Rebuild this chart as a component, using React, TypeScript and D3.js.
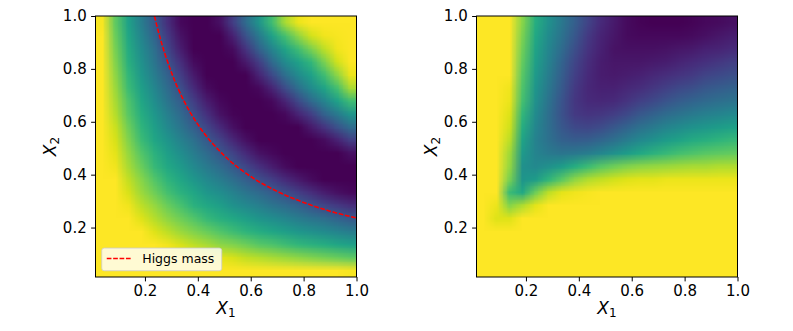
import { useEffect, useRef } from "react";
import * as d3 from "d3";

// lower end of both axes (the grid does not start at 0)
const AXIS_MIN = 0.013;

const xTicks = [0.2, 0.4, 0.6, 0.8, 1.0];
const yTicks = [0.2, 0.4, 0.6, 0.8, 1.0];

// 20x20 grid of normalised values (0 = dark purple, 1 = yellow).
// rows run from x2 = 0.976 (top) down to x2 = 0.038, columns from x1 = 0.038 to 0.976
const leftRows = [
  [0.99, 0.75, 0.57, 0.42, 0.28, 0.13, 0.02, 0, 0, 0.04, 0.18, 0.35, 0.52, 0.69, 0.87, 0.97, 1, 1, 1, 1],
  [1, 0.77, 0.59, 0.45, 0.32, 0.17, 0.05, 0, 0, 0, 0.09, 0.25, 0.41, 0.57, 0.7, 0.83, 0.93, 0.98, 0.99, 1],
  [1, 0.79, 0.61, 0.48, 0.36, 0.21, 0.08, 0, 0, 0, 0.03, 0.15, 0.31, 0.45, 0.58, 0.69, 0.8, 0.9, 0.98, 1],
  [1, 0.81, 0.63, 0.5, 0.39, 0.26, 0.13, 0.03, 0, 0, 0, 0.07, 0.18, 0.34, 0.48, 0.57, 0.66, 0.8, 0.93, 1],
  [1, 0.83, 0.66, 0.53, 0.42, 0.31, 0.18, 0.07, 0, 0, 0, 0, 0.1, 0.22, 0.36, 0.48, 0.57, 0.69, 0.83, 0.97],
  [1, 0.85, 0.68, 0.56, 0.46, 0.35, 0.24, 0.12, 0.03, 0, 0, 0, 0.02, 0.1, 0.23, 0.36, 0.48, 0.58, 0.7, 0.87],
  [1, 0.87, 0.72, 0.59, 0.49, 0.39, 0.29, 0.18, 0.08, 0.02, 0, 0, 0, 0.02, 0.1, 0.22, 0.34, 0.45, 0.57, 0.69],
  [1, 0.89, 0.74, 0.62, 0.53, 0.43, 0.34, 0.24, 0.14, 0.05, 0.01, 0, 0, 0, 0.02, 0.1, 0.18, 0.31, 0.41, 0.52],
  [1, 0.92, 0.78, 0.65, 0.56, 0.47, 0.39, 0.3, 0.21, 0.12, 0.04, 0, 0, 0, 0, 0, 0.07, 0.15, 0.25, 0.35],
  [1, 0.94, 0.81, 0.68, 0.59, 0.52, 0.44, 0.37, 0.28, 0.2, 0.11, 0.04, 0, 0, 0, 0, 0, 0.03, 0.09, 0.18],
  [1, 0.96, 0.84, 0.73, 0.64, 0.56, 0.49, 0.42, 0.35, 0.27, 0.2, 0.12, 0.05, 0.02, 0, 0, 0, 0, 0, 0.04],
  [1, 0.98, 0.87, 0.77, 0.67, 0.6, 0.54, 0.47, 0.41, 0.35, 0.28, 0.21, 0.14, 0.08, 0.03, 0, 0, 0, 0, 0],
  [1, 1, 0.91, 0.82, 0.73, 0.65, 0.59, 0.53, 0.47, 0.42, 0.36, 0.3, 0.24, 0.18, 0.12, 0.07, 0.03, 0, 0, 0],
  [1, 1, 0.94, 0.85, 0.78, 0.7, 0.64, 0.59, 0.53, 0.49, 0.44, 0.39, 0.34, 0.29, 0.24, 0.18, 0.13, 0.08, 0.04, 0.02],
  [1, 1, 0.98, 0.9, 0.84, 0.77, 0.71, 0.64, 0.6, 0.56, 0.51, 0.47, 0.43, 0.39, 0.35, 0.31, 0.26, 0.21, 0.17, 0.13],
  [1, 1, 1, 0.95, 0.89, 0.83, 0.78, 0.73, 0.67, 0.63, 0.6, 0.56, 0.52, 0.49, 0.46, 0.42, 0.39, 0.36, 0.32, 0.28],
  [1, 1, 1, 1, 0.95, 0.9, 0.85, 0.81, 0.77, 0.73, 0.69, 0.65, 0.62, 0.59, 0.56, 0.53, 0.5, 0.48, 0.45, 0.42],
  [1, 1, 1, 1, 1, 0.98, 0.94, 0.9, 0.87, 0.83, 0.81, 0.78, 0.74, 0.72, 0.69, 0.66, 0.64, 0.62, 0.59, 0.57],
  [1, 1, 1, 1, 1, 1, 1, 1, 0.98, 0.96, 0.94, 0.91, 0.89, 0.87, 0.85, 0.83, 0.81, 0.79, 0.77, 0.75],
  [1, 1, 1, 1, 1, 1, 1, 1, 1, 1, 1, 1, 1, 1, 1, 1, 1, 1, 1, 0.99],
];

const rightRows = [
  [1.0, 1.0, 1.0, 0.82, 0.62, 0.5, 0.4, 0.3, 0.2, 0.12, 0.07, 0.03, 0.01, 0.0, 0.0, 0.0, 0.01, 0.02, 0.03, 0.04],
  [1.0, 1.0, 1.0, 0.8, 0.6, 0.48, 0.38, 0.27, 0.17, 0.1, 0.06, 0.03, 0.02, 0.02, 0.02, 0.02, 0.03, 0.04, 0.06, 0.08],
  [1.0, 1.0, 1.0, 0.78, 0.58, 0.46, 0.35, 0.24, 0.15, 0.09, 0.05, 0.04, 0.04, 0.04, 0.05, 0.06, 0.07, 0.09, 0.1, 0.12],
  [1.0, 1.0, 1.0, 0.76, 0.56, 0.44, 0.32, 0.21, 0.13, 0.08, 0.06, 0.06, 0.06, 0.07, 0.08, 0.1, 0.12, 0.14, 0.16, 0.18],
  [1.0, 1.0, 1.0, 0.74, 0.54, 0.42, 0.3, 0.19, 0.12, 0.08, 0.07, 0.08, 0.09, 0.11, 0.13, 0.15, 0.17, 0.2, 0.22, 0.24],
  [1.0, 1.0, 0.98, 0.72, 0.52, 0.4, 0.28, 0.17, 0.11, 0.09, 0.09, 0.11, 0.13, 0.16, 0.19, 0.22, 0.24, 0.27, 0.29, 0.31],
  [1.0, 1.0, 0.97, 0.7, 0.5, 0.38, 0.26, 0.16, 0.12, 0.11, 0.12, 0.15, 0.19, 0.22, 0.26, 0.29, 0.32, 0.34, 0.36, 0.38],
  [1.0, 1.0, 0.95, 0.66, 0.48, 0.36, 0.25, 0.17, 0.15, 0.16, 0.18, 0.22, 0.27, 0.31, 0.35, 0.38, 0.41, 0.43, 0.45, 0.47],
  [1.0, 1.0, 0.93, 0.62, 0.46, 0.36, 0.27, 0.22, 0.21, 0.23, 0.27, 0.32, 0.37, 0.41, 0.45, 0.48, 0.51, 0.53, 0.55, 0.57],
  [1.0, 1.0, 0.9, 0.58, 0.44, 0.37, 0.31, 0.29, 0.3, 0.33, 0.37, 0.42, 0.47, 0.51, 0.55, 0.58, 0.61, 0.63, 0.65, 0.67],
  [1.0, 1.0, 0.86, 0.54, 0.45, 0.41, 0.39, 0.4, 0.42, 0.46, 0.5, 0.55, 0.6, 0.64, 0.67, 0.7, 0.72, 0.74, 0.75, 0.76],
  [1.0, 1.0, 0.84, 0.5, 0.47, 0.5, 0.55, 0.62, 0.68, 0.74, 0.78, 0.81, 0.83, 0.84, 0.85, 0.86, 0.87, 0.87, 0.88, 0.88],
  [1.0, 1.0, 0.8, 0.52, 0.55, 0.65, 0.74, 0.83, 0.88, 0.91, 0.93, 0.95, 0.96, 0.96, 0.97, 0.97, 0.97, 0.97, 0.97, 0.97],
  [1.0, 1.0, 0.68, 0.6, 0.78, 0.9, 0.96, 0.98, 0.99, 1.0, 1.0, 1.0, 1.0, 1.0, 1.0, 1.0, 1.0, 1.0, 1.0, 1.0],
  [1.0, 0.97, 0.82, 0.88, 0.96, 1.0, 1.0, 1.0, 1.0, 1.0, 1.0, 1.0, 1.0, 1.0, 1.0, 1.0, 1.0, 1.0, 1.0, 1.0],
  [1.0, 0.95, 0.95, 1.0, 1.0, 1.0, 1.0, 1.0, 1.0, 1.0, 1.0, 1.0, 1.0, 1.0, 1.0, 1.0, 1.0, 1.0, 1.0, 1.0],
  [1.0, 1.0, 1.0, 1.0, 1.0, 1.0, 1.0, 1.0, 1.0, 1.0, 1.0, 1.0, 1.0, 1.0, 1.0, 1.0, 1.0, 1.0, 1.0, 1.0],
  [1.0, 1.0, 1.0, 1.0, 1.0, 1.0, 1.0, 1.0, 1.0, 1.0, 1.0, 1.0, 1.0, 1.0, 1.0, 1.0, 1.0, 1.0, 1.0, 1.0],
  [1.0, 1.0, 1.0, 1.0, 1.0, 1.0, 1.0, 1.0, 1.0, 1.0, 1.0, 1.0, 1.0, 1.0, 1.0, 1.0, 1.0, 1.0, 1.0, 1.0],
  [1.0, 1.0, 1.0, 1.0, 1.0, 1.0, 1.0, 1.0, 1.0, 1.0, 1.0, 1.0, 1.0, 1.0, 1.0, 1.0, 1.0, 1.0, 1.0, 1.0],
];

// red dashed "Higgs mass" curve on the left panel
const higgsX1 = [0.236, 0.25, 0.3, 0.35, 0.4, 0.5, 0.6, 0.7, 0.8, 0.9, 1.0];
const higgsX2 = [1.0, 0.944, 0.787, 0.674, 0.59, 0.472, 0.393, 0.337, 0.295, 0.262, 0.236];

const W = 793;
const H = 331;
const TOP = 16;
const SIZE = 261;
const FONT = "DejaVu Sans, sans-serif";
const DASH = "4.7,1.7";

const panels = [
  { left: 95.5, rows: leftRows, legend: true },
  { left: 476.5, rows: rightRows, legend: false },
];

const color = d3.scaleSequential(d3.interpolateViridis).domain([0, 1]);

// one pixel per grid cell; the browser smooths it when it is scaled up
function gridImage(rows: number[][]) {
  const n = rows.length;
  const m = rows[0].length;
  const canvas = document.createElement("canvas");
  canvas.width = m;
  canvas.height = n;
  const ctx = canvas.getContext("2d")!;
  const img = ctx.createImageData(m, n);
  rows.forEach((row, j) =>
    row.forEach((v, i) => {
      const c = d3.rgb(color(v));
      const k = (j * m + i) * 4;
      img.data[k] = c.r;
      img.data[k + 1] = c.g;
      img.data[k + 2] = c.b;
      img.data[k + 3] = 255;
    })
  );
  ctx.putImageData(img, 0, 0);
  return canvas.toDataURL();
}

export default function App() {
  const svgRef = useRef<SVGSVGElement | null>(null);

  useEffect(() => {
    const svg = d3.select(svgRef.current);
    svg.selectAll("*").remove();

    panels.forEach((p, idx) => {
      const x = d3.scaleLinear().domain([AXIS_MIN, 1]).range([p.left, p.left + SIZE]);
      const y = d3.scaleLinear().domain([AXIS_MIN, 1]).range([TOP + SIZE, TOP]);
      const g = svg.append("g");

      g.append("image")
        .attr("href", gridImage(p.rows))
        .attr("x", x(AXIS_MIN))
        .attr("y", y(1))
        .attr("width", x(1) - x(AXIS_MIN))
        .attr("height", y(AXIS_MIN) - y(1))
        .attr("preserveAspectRatio", "none")
        .style("image-rendering", "auto");

      if (p.legend) {
        const clipId = `clip-${idx}`;
        g.append("clipPath")
          .attr("id", clipId)
          .append("rect")
          .attr("x", x(AXIS_MIN))
          .attr("y", y(1))
          .attr("width", x(1) - x(AXIS_MIN))
          .attr("height", y(AXIS_MIN) - y(1));

        const pts = higgsX1.map((v, i) => [v, higgsX2[i]] as [number, number]);
        const line = d3
          .line<[number, number]>()
          .x((d) => x(d[0]))
          .y((d) => y(d[1]))
          .curve(d3.curveMonotoneX);
        g.append("path")
          .attr("d", line(pts))
          .attr("clip-path", `url(#${clipId})`)
          .attr("fill", "none")
          .attr("stroke", "#ff0000")
          .attr("stroke-width", 1.6)
          .attr("stroke-dasharray", DASH);

        // legend box in the lower left corner
        const lx = p.left + 6.25;
        const ly = TOP + SIZE - 6.25 - 22.7;
        const lg = g.append("g");
        lg.append("rect")
          .attr("x", lx)
          .attr("y", ly)
          .attr("width", 120)
          .attr("height", 22.7)
          .attr("rx", 2.5)
          .attr("fill", "white")
          .attr("fill-opacity", 0.8)
          .attr("stroke", "#cccccc")
          .attr("stroke-opacity", 0.8)
          .attr("stroke-width", 1);
        lg.append("line")
          .attr("x1", lx + 5)
          .attr("x2", lx + 30)
          .attr("y1", ly + 10.5)
          .attr("y2", ly + 10.5)
          .attr("stroke", "#ff0000")
          .attr("stroke-width", 1.6)
          .attr("stroke-dasharray", DASH);
        lg.append("text")
          .attr("x", lx + 40.5)
          .attr("y", ly + 10.5)
          .attr("dy", "0.35em")
          .attr("font-family", FONT)
          .attr("font-size", 12.5)
          .attr("fill", "#000")
          .text("Higgs mass");
      }

      // frame
      g.append("rect")
        .attr("x", x(AXIS_MIN))
        .attr("y", y(1))
        .attr("width", x(1) - x(AXIS_MIN))
        .attr("height", y(AXIS_MIN) - y(1))
        .attr("fill", "none")
        .attr("stroke", "#000")
        .attr("stroke-width", 1);

      const xAxis = g
        .append("g")
        .attr("transform", `translate(0,${TOP + SIZE})`)
        .call(
          d3.axisBottom(x).tickValues(xTicks).tickFormat(d3.format(".1f")).tickSize(4.4).tickPadding(4.4).tickSizeOuter(0)
        );
      const yAxis = g
        .append("g")
        .attr("transform", `translate(${p.left},0)`)
        .call(
          d3.axisLeft(y).tickValues(yTicks).tickFormat(d3.format(".1f")).tickSize(4.4).tickPadding(4.4).tickSizeOuter(0)
        );
      [xAxis, yAxis].forEach((a) => {
        a.select(".domain").remove();
        a.selectAll(".tick line").attr("stroke", "#000").attr("stroke-width", 1);
        a.selectAll(".tick text")
          .attr("font-family", FONT)
          .attr("font-size", 15)
          .attr("fill", "#000");
      });

      // axis titles
      const xl = g
        .append("text")
        .attr("x", p.left + SIZE / 2)
        .attr("y", 313.5)
        .attr("text-anchor", "middle")
        .attr("font-family", FONT)
        .attr("font-size", 17)
        .attr("fill", "#000");
      xl.append("tspan").attr("font-style", "italic").text("X");
      xl.append("tspan").attr("font-size", 12).attr("dy", 3.5).text("1");

      const yl = g
        .append("text")
        .attr("transform", `translate(${p.left - 40},${TOP + SIZE / 2}) rotate(-90)`)
        .attr("text-anchor", "middle")
        .attr("font-family", FONT)
        .attr("font-size", 17)
        .attr("fill", "#000");
      yl.append("tspan").attr("font-style", "italic").text("X");
      yl.append("tspan").attr("font-size", 12).attr("dy", 3.5).text("2");
    });
  }, []);

  return (
    <svg
      ref={svgRef}
      width={W}
      height={H}
      style={{ position: "absolute", left: 0, top: 0, background: "#fff" }}
    />
  );
}
